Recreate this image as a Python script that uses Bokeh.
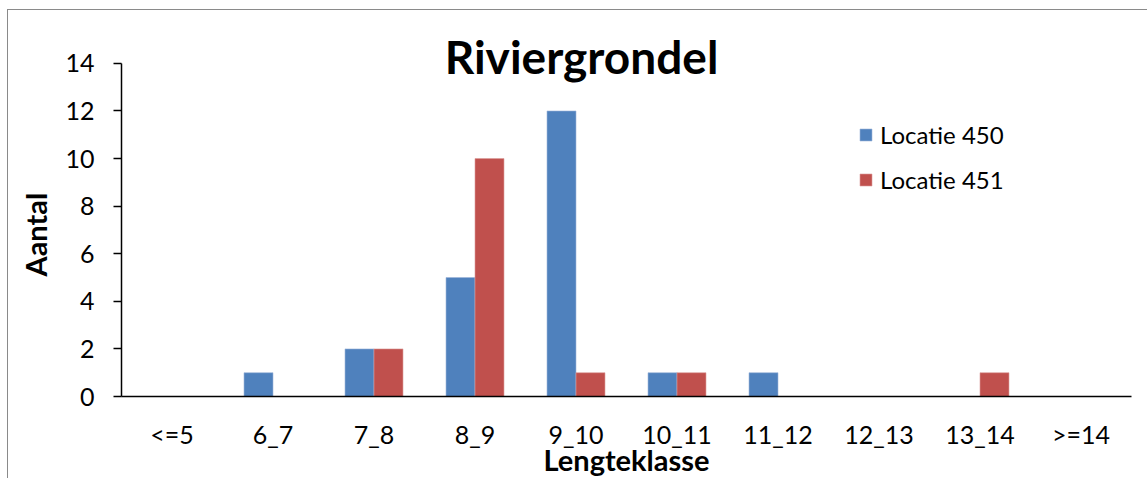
from bokeh.plotting import figure
from bokeh.models import FactorRange, Range1d, ColumnDataSource, Label, Legend, LegendItem, FixedTicker
from bokeh.transform import dodge
from bokeh.embed import file_html
from bokeh.resources import INLINE

categories = ["<=5", "6_7", "7_8", "8_9", "9_10", "10_11", "11_12", "12_13", "13_14", ">=14"]
locatie_450 = [0, 1, 2, 5, 12, 1, 1, 0, 0, 0]
locatie_451 = [0, 0, 2, 10, 1, 1, 0, 0, 1, 0]
series_names = ["Locatie 450", "Locatie 451"]
y_ticks = [0, 2, 4, 6, 8, 10, 12, 14]
y_axis_max = 14
y_view_max = 15.383   # extra headroom above the axis so the title sits inside the frame

FONT = "Lato"
source = ColumnDataSource(dict(cat=categories, a=locatie_450, b=locatie_451))

p = figure(x_range=FactorRange(*categories), y_range=Range1d(0, y_view_max),
           width=1140, height=469, output_backend="svg", toolbar_location=None,
           min_border_left=113, min_border_right=17, min_border_top=20, min_border_bottom=82)
p.styles = {"margin-left": "7px", "margin-top": "9px",
            "border-left": "1px solid #8a8a8a", "border-top": "1px solid #8a8a8a"}
p.outline_line_color = None
p.grid.grid_line_color = None

bw = 0.287
r1 = p.vbar(x=dodge("cat", -bw / 2, range=p.x_range), top="a", width=bw, source=source,
            fill_color="#4F81BD", line_color="#9DB6DA", line_width=0.6)
r2 = p.vbar(x=dodge("cat", bw / 2, range=p.x_range), top="b", width=bw, source=source,
            fill_color="#C0504D", line_color="#DC9C9A", line_width=0.6)

# axes
p.yaxis.ticker = FixedTicker(ticks=y_ticks)
p.yaxis.bounds = (0, y_axis_max)
p.yaxis.minor_tick_line_color = None
p.yaxis.major_tick_out = 8
p.yaxis.major_tick_in = 0
p.yaxis.major_tick_line_width = 1.5
p.yaxis.axis_line_width = 1.5
p.yaxis.axis_line_color = "black"
p.yaxis.major_tick_line_color = "black"
p.yaxis.major_label_text_font = FONT
p.yaxis.major_label_text_font_size = "25px"
p.yaxis.major_label_text_color = "black"
p.yaxis.major_label_standoff = 19
p.yaxis.axis_label = "Aantal" + "\u00a0" * 6
p.yaxis.axis_label_text_font = FONT
p.yaxis.axis_label_text_font_size = "29px"
p.yaxis.axis_label_text_font_style = "bold"
p.yaxis.axis_label_text_color = "black"
p.yaxis.axis_label_standoff = 9

p.xaxis.major_tick_line_color = None
p.xaxis.minor_tick_line_color = None
p.xaxis.major_tick_out = 0
p.xaxis.major_tick_in = 0
p.xaxis.axis_line_width = 1.5
p.xaxis.axis_line_color = "black"
p.xaxis.major_label_text_font = FONT
p.xaxis.major_label_text_font_size = "25px"
p.xaxis.major_label_text_color = "black"
p.xaxis.major_label_standoff = 22
p.xaxis.axis_label = "Lengteklasse"
p.xaxis.axis_label_text_font = FONT
p.xaxis.axis_label_text_font_size = "29px"
p.xaxis.axis_label_text_font_style = "bold"
p.xaxis.axis_label_text_color = "black"
p.xaxis.axis_label_standoff = -10

title = Label(x=460, y=340, x_units="screen", y_units="screen", text="Riviergrondel",
              text_font=FONT, text_font_size="46px", text_font_style="bold",
              text_align="center", text_baseline="alphabetic", text_color="black")
p.add_layout(title)

legend = Legend(items=[LegendItem(label=series_names[0], renderers=[r1]),
                       LegendItem(label=series_names[1], renderers=[r2])],
                location=(737, 202), orientation="vertical")
legend.border_line_color = None
legend.background_fill_alpha = 0
legend.padding = 0
legend.margin = 0
legend.spacing = 16
legend.glyph_width = 15
legend.glyph_height = 15
legend.label_height = 24
legend.label_standoff = 7
legend.label_text_font = FONT
legend.label_text_font_size = "24px"
legend.label_text_color = "black"
p.add_layout(legend)

open("out.html", "w").write(file_html(p, INLINE))
